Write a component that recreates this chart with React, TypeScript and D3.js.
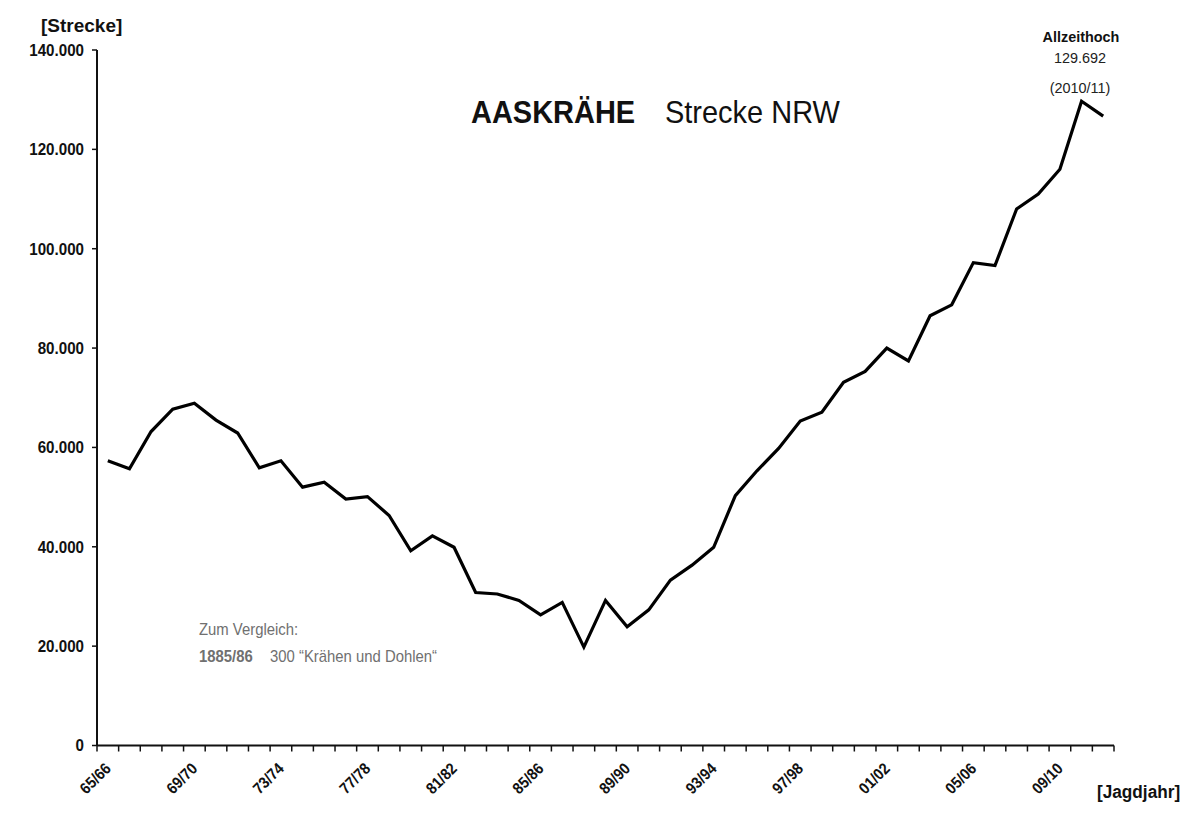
import React from "react";
import * as d3 from "d3";

const seasons: string[] = [
  "65/66","66/67","67/68","68/69","69/70","70/71","71/72","72/73","73/74","74/75",
  "75/76","76/77","77/78","78/79","79/80","80/81","81/82","82/83","83/84","84/85",
  "85/86","86/87","87/88","88/89","89/90","90/91","91/92","92/93","93/94","94/95",
  "95/96","96/97","97/98","98/99","99/00","00/01","01/02","02/03","03/04","04/05",
  "05/06","06/07","07/08","08/09","09/10","10/11","11/12",
];

const strecke: number[] = [
  57300, 55700, 63200, 67700, 68900, 65500, 62900, 55900, 57300, 52000,
  53000, 49600, 50100, 46300, 39200, 42200, 39900, 30800, 30500, 29200,
  26300, 28800, 19800, 29200, 23900, 27300, 33300, 36300, 39900, 50300,
  55300, 59800, 65300, 67100, 73100, 75300, 80000, 77400, 86500, 88700,
  97200, 96600, 108000, 111000, 116000, 129692, 126700,
];

const yTicks: number[] = [0, 20000, 40000, 60000, 80000, 100000, 120000, 140000];
const yTickLabels: string[] = ["0", "20.000", "40.000", "60.000", "80.000", "100.000", "120.000", "140.000"];
const labeledSeasons: string[] = ["65/66","69/70","73/74","77/78","81/82","85/86","89/90","93/94","97/98","01/02","05/06","09/10"];

const FONT = "Liberation Sans, Arial, Helvetica, sans-serif";

export default function App() {
  const W = 1203, H = 816;
  const x = d3.scaleBand<string>().domain(seasons).range([97, 1114]).paddingInner(0).paddingOuter(0);
  const y = d3.scaleLinear().domain([0, 140000]).range([745.5, 50]);
  const bw = x.bandwidth();
  const cx = (s: string) => (x(s) as number) + bw / 2;

  const line = d3.line<number>()
    .x((_, i) => cx(seasons[i]))
    .y((d) => y(d));

  const tickXs = seasons.map((s) => x(s) as number).concat([(x(seasons[seasons.length - 1]) as number) + bw]);
  const x0 = 97, y0 = y(0);

  return (
    <svg width={W} height={H} style={{ position: "absolute", left: 0, top: 0, background: "#fff" }} fontFamily={FONT}>
      <rect x={0} y={0} width={W} height={H} fill="#fff" />
      {/* y axis */}
      <line x1={x0} x2={x0} y1={y(140000)} y2={y0} stroke="#111" strokeWidth={2} />
      {yTicks.map((t, i) => (
        <g key={t}>
          <line x1={x0 - 5} x2={x0} y1={y(t)} y2={y(t)} stroke="#111" strokeWidth={1.5} />
          <text transform={`translate(84,${y(t)}) scale(0.93,1)`} dy="0.36em" textAnchor="end" fontSize={16.3} fontWeight="bold" fill="#111">
            {yTickLabels[i]}
          </text>
        </g>
      ))}
      {/* x axis */}
      <line x1={x0} x2={tickXs[tickXs.length - 1]} y1={y0} y2={y0} stroke="#111" strokeWidth={2} />
      {tickXs.map((tx, i) => (
        <line key={i} x1={tx} x2={tx} y1={y0} y2={y0 + 6} stroke="#111" strokeWidth={1.5} />
      ))}
      {labeledSeasons.map((s) => (
        <text key={s} transform={`translate(${cx(s) + 4},${y0 + 24}) rotate(-45) scale(0.9,1)`} textAnchor="end"
          fontSize={16} fontWeight="bold" fill="#111">
          {s}
        </text>
      ))}
      {/* data line */}
      <path d={line(strecke) || ""} fill="none" stroke="#000" strokeWidth={3.2} strokeLinejoin="miter" />
      {/* axis titles */}
      <text x={41} y={32} fontSize={19} fontWeight="bold" fill="#111">[Strecke]</text>
      <text transform="translate(1097,798) scale(0.93,1)" fontSize={18.5} fontWeight="bold" fill="#111">[Jagdjahr]</text>
      {/* title */}
      <text transform="translate(471,123) scale(0.92,1)" fontSize={31.5} fontWeight="bold" fill="#111">AASKRÄHE</text>
      <text transform="translate(665,123) scale(0.92,1)" fontSize={31.5} fill="#111">Strecke NRW</text>
      {/* annotation */}
      <text transform="translate(1081,42) scale(0.93,1)" textAnchor="middle" fontSize={15.5} fontWeight="bold" fill="#111">Allzeithoch</text>
      <text transform="translate(1080,63) scale(0.93,1)" textAnchor="middle" fontSize={15.5} fill="#222">129.692</text>
      <text transform="translate(1080,93) scale(0.93,1)" textAnchor="middle" fontSize={15.5} fill="#222">(2010/11)</text>
      {/* comparison note */}
      <text transform="translate(199,635) scale(0.93,1)" fontSize={16} fill="#707070">Zum Vergleich:</text>
      <text transform="translate(199,662) scale(0.93,1)" fontSize={16} fontWeight="bold" fill="#707070">1885/86</text>
      <text transform="translate(270,662) scale(0.93,1)" fontSize={16} fill="#707070">300 “Krähen und Dohlen“</text>
    </svg>
  );
}
